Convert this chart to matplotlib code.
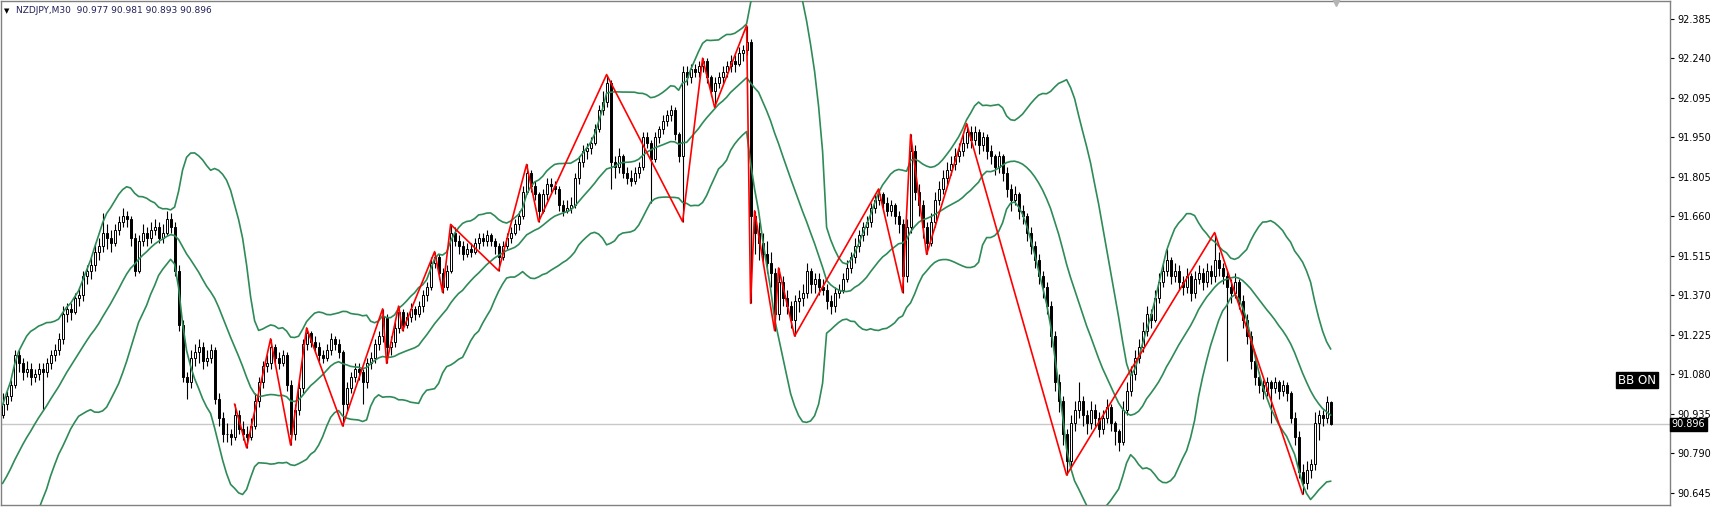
import numpy as np
import pandas as pd
import matplotlib
matplotlib.use("Agg")
import matplotlib.pyplot as plt

# NZDJPY M30 candles (one per bar, left to right)
# closes before the first visible bar, only needed to start the Bollinger bands
warmup_closes = [90.50, 90.47, 90.52, 90.55, 90.53, 90.58, 90.60, 90.57, 90.62, 90.65,
                 90.68, 90.66, 90.72, 90.75, 90.78, 90.80, 90.84, 90.88, 90.92]

opens = [
    90.93, 90.97, 91.00, 91.04, 91.15, 91.12, 91.09, 91.10, 91.07, 91.08,
    91.10, 91.09, 91.12, 91.15, 91.17, 91.21, 91.30, 91.32, 91.31, 91.36,
    91.37, 91.44, 91.46, 91.48, 91.53, 91.55, 91.60, 91.58, 91.56, 91.61,
    91.64, 91.66, 91.65, 91.58, 91.46, 91.57, 91.60, 91.58, 91.61, 91.62,
    91.58, 91.60, 91.65, 91.62, 91.46, 91.26, 91.07, 91.05, 91.14, 91.16,
    91.18, 91.13, 91.14, 91.17, 90.99, 90.92, 90.86, 90.86, 90.85, 90.93,
    90.88, 90.86, 90.85, 90.89, 90.98, 91.05, 91.11, 91.12, 91.18, 91.14,
    91.12, 91.15, 91.04, 90.86, 90.95, 91.03, 91.19, 91.23, 91.20, 91.18,
    91.15, 91.14, 91.17, 91.21, 91.19, 91.16, 90.97, 91.03, 91.07, 91.10,
    91.09, 91.05, 91.12, 91.14, 91.19, 91.22, 91.29, 91.18, 91.20, 91.25,
    91.31, 91.26, 91.29, 91.32, 91.30, 91.33, 91.37, 91.40, 91.49, 91.51,
    91.45, 91.40, 91.46, 91.60, 91.57, 91.55, 91.52, 91.54, 91.53, 91.56,
    91.58, 91.57, 91.59, 91.57, 91.55, 91.51, 91.55, 91.58, 91.60, 91.63,
    91.66, 91.75, 91.82, 91.77, 91.74, 91.68, 91.74, 91.78, 91.77, 91.76,
    91.70, 91.68, 91.69, 91.70, 91.80, 91.86, 91.90, 91.91, 91.93, 91.98,
    92.05, 92.08, 92.15, 91.86, 91.84, 91.88, 91.82, 91.80, 91.79, 91.82,
    91.84, 91.95, 91.93, 91.87, 91.95, 91.98, 92.01, 92.03, 92.05, 91.96,
    91.88, 92.19, 92.17, 92.20, 92.19, 92.21, 92.23, 92.17, 92.12, 92.15,
    92.17, 92.19, 92.21, 92.23, 92.22, 92.26, 92.27, 92.30, 91.66, 91.60,
    91.56, 91.52, 91.49, 91.45, 91.30, 91.42, 91.36, 91.33, 91.28, 91.35,
    91.36, 91.38, 91.46, 91.41, 91.43, 91.40, 91.39, 91.35, 91.33, 91.38,
    91.39, 91.43, 91.47, 91.51, 91.55, 91.59, 91.62, 91.64, 91.69, 91.72,
    91.74, 91.71, 91.68, 91.70, 91.66, 91.63, 91.44, 91.62, 91.90, 91.75,
    91.70, 91.62, 91.56, 91.64, 91.72, 91.76, 91.80, 91.83, 91.85, 91.88,
    91.90, 91.93, 91.97, 91.94, 91.97, 91.92, 91.95, 91.90, 91.88, 91.84,
    91.88, 91.82, 91.76, 91.72, 91.74, 91.68, 91.66, 91.60, 91.55, 91.50,
    91.44, 91.40, 91.33, 91.22, 91.05, 90.98, 90.86, 90.76, 90.90, 90.95,
    90.98, 90.93, 90.90, 90.95, 90.92, 90.88, 90.92, 90.96, 90.90, 90.87,
    90.83, 90.95, 91.02, 91.08, 91.14, 91.18, 91.24, 91.30, 91.28, 91.36,
    91.42, 91.46, 91.50, 91.44, 91.46, 91.42, 91.40, 91.44, 91.38, 91.43,
    91.45, 91.42, 91.46, 91.44, 91.50, 91.47, 91.44, 91.40, 91.38, 91.42,
    91.35, 91.28, 91.22, 91.13, 91.07, 91.04, 91.02, 91.05, 91.03, 91.05,
    91.02, 91.04, 91.01, 90.92, 90.85, 90.72, 90.68, 90.73, 90.75, 90.90,
    90.93, 90.92, 90.977]

highs = [
    91.01, 91.02, 91.06, 91.17, 91.17, 91.14, 91.13, 91.12, 91.10, 91.12,
    91.12, 91.14, 91.17, 91.19, 91.23, 91.33, 91.34, 91.34, 91.38, 91.40,
    91.46, 91.48, 91.51, 91.56, 91.58, 91.67, 91.63, 91.61, 91.63, 91.66,
    91.69, 91.68, 91.66, 91.60, 91.59, 91.63, 91.62, 91.64, 91.65, 91.64,
    91.63, 91.68, 91.67, 91.64, 91.48, 91.28, 91.09, 91.17, 91.19, 91.21,
    91.20, 91.17, 91.19, 91.18, 91.01, 90.94, 90.90, 90.88, 90.97, 90.95,
    90.91, 90.89, 90.92, 91.01, 91.07, 91.13, 91.15, 91.21, 91.19, 91.16,
    91.17, 91.16, 91.06, 90.97, 91.06, 91.21, 91.25, 91.24, 91.22, 91.20,
    91.17, 91.19, 91.23, 91.22, 91.21, 91.17, 91.05, 91.09, 91.12, 91.12,
    91.10, 91.14, 91.16, 91.21, 91.24, 91.32, 91.30, 91.22, 91.27, 91.33,
    91.32, 91.31, 91.34, 91.33, 91.35, 91.39, 91.42, 91.51, 91.53, 91.52,
    91.47, 91.48, 91.63, 91.62, 91.59, 91.57, 91.56, 91.56, 91.58, 91.60,
    91.60, 91.61, 91.60, 91.58, 91.56, 91.57, 91.60, 91.62, 91.65, 91.68,
    91.77, 91.85, 91.83, 91.79, 91.75, 91.76, 91.80, 91.80, 91.79, 91.77,
    91.72, 91.72, 91.73, 91.82, 91.88, 91.92, 91.93, 91.95, 92.00, 92.07,
    92.12, 92.18, 92.16, 91.88, 91.91, 91.89, 91.84, 91.83, 91.84, 91.86,
    91.97, 91.97, 91.94, 91.97, 91.99, 92.03, 92.05, 92.07, 92.06, 91.97,
    92.21, 92.21, 92.22, 92.22, 92.23, 92.24, 92.24, 92.18, 92.17, 92.19,
    92.21, 92.23, 92.25, 92.25, 92.28, 92.29, 92.36, 92.31, 91.68, 91.64,
    91.60, 91.57, 91.53, 91.47, 91.47, 91.44, 91.39, 91.35, 91.37, 91.39,
    91.41, 91.49, 91.47, 91.45, 91.45, 91.43, 91.41, 91.37, 91.40, 91.41,
    91.45, 91.50, 91.53, 91.58, 91.61, 91.64, 91.66, 91.71, 91.74, 91.76,
    91.75, 91.73, 91.72, 91.71, 91.68, 91.65, 91.65, 91.96, 91.92, 91.78,
    91.72, 91.64, 91.67, 91.75, 91.79, 91.83, 91.86, 91.88, 91.91, 91.93,
    91.96, 92.00, 91.99, 91.99, 91.98, 91.97, 91.96, 91.92, 91.89, 91.90,
    91.89, 91.84, 91.78, 91.77, 91.75, 91.70, 91.67, 91.62, 91.57, 91.52,
    91.46, 91.42, 91.35, 91.24, 91.08, 91.00, 90.88, 90.93, 90.98, 91.05,
    91.00, 90.95, 90.98, 90.97, 90.94, 90.95, 90.99, 90.97, 90.91, 90.88,
    90.98, 91.05, 91.11, 91.17, 91.21, 91.27, 91.33, 91.32, 91.39, 91.45,
    91.49, 91.54, 91.51, 91.49, 91.48, 91.44, 91.47, 91.45, 91.46, 91.48,
    91.47, 91.49, 91.48, 91.60, 91.53, 91.49, 91.46, 91.43, 91.45, 91.43,
    91.37, 91.30, 91.24, 91.15, 91.09, 91.06, 91.07, 91.06, 91.07, 91.06,
    91.06, 91.05, 91.02, 90.94, 90.87, 90.75, 90.76, 90.77, 90.94, 90.95,
    90.95, 91.00, 90.981]

lows = [
    90.92, 90.95, 90.98, 91.03, 91.09, 91.06, 91.07, 91.04, 91.05, 91.06,
    90.95, 91.07, 91.10, 91.13, 91.15, 91.19, 91.27, 91.28, 91.30, 91.33,
    91.35, 91.41, 91.43, 91.46, 91.50, 91.53, 91.54, 91.53, 91.55, 91.59,
    91.62, 91.62, 91.55, 91.44, 91.45, 91.55, 91.55, 91.56, 91.59, 91.56,
    91.56, 91.59, 91.60, 91.44, 91.24, 91.05, 90.99, 91.03, 91.11, 91.12,
    91.10, 91.11, 91.12, 90.97, 90.89, 90.83, 90.83, 90.82, 90.84, 90.86,
    90.84, 90.81, 90.84, 90.88, 90.96, 91.03, 91.09, 91.10, 91.12, 91.10,
    91.11, 91.02, 90.82, 90.84, 90.93, 91.01, 91.17, 91.18, 91.16, 91.13,
    91.12, 91.13, 91.15, 91.17, 91.14, 90.89, 90.95, 91.01, 91.05, 91.06,
    90.97, 91.03, 91.10, 91.12, 91.17, 91.20, 91.12, 91.15, 91.18, 91.23,
    91.24, 91.25, 91.27, 91.28, 91.29, 91.31, 91.35, 91.39, 91.47, 91.43,
    91.38, 91.39, 91.45, 91.55, 91.52, 91.50, 91.51, 91.51, 91.52, 91.54,
    91.55, 91.55, 91.55, 91.52, 91.46, 91.50, 91.54, 91.56, 91.59, 91.61,
    91.65, 91.74, 91.75, 91.72, 91.64, 91.67, 91.72, 91.75, 91.74, 91.68,
    91.66, 91.67, 91.67, 91.69, 91.78, 91.84, 91.87, 91.89, 91.92, 91.97,
    92.03, 92.06, 91.76, 91.80, 91.82, 91.80, 91.78, 91.77, 91.78, 91.80,
    91.83, 91.91, 91.71, 91.86, 91.93, 91.96, 91.99, 92.01, 91.94, 91.86,
    91.64, 92.14, 92.15, 92.17, 92.17, 92.19, 92.15, 92.10, 92.06, 92.13,
    92.15, 92.17, 92.19, 92.19, 92.21, 92.23, 92.25, 91.34, 91.52, 91.50,
    91.48, 91.45, 91.40, 91.24, 91.28, 91.33, 91.30, 91.25, 91.22, 91.31,
    91.33, 91.36, 91.38, 91.38, 91.37, 91.37, 91.32, 91.30, 91.31, 91.36,
    91.38, 91.42, 91.45, 91.49, 91.53, 91.57, 91.59, 91.62, 91.67, 91.70,
    91.69, 91.66, 91.66, 91.63, 91.60, 91.38, 91.42, 91.60, 91.72, 91.66,
    91.58, 91.52, 91.55, 91.62, 91.70, 91.74, 91.78, 91.81, 91.83, 91.86,
    91.88, 91.91, 91.91, 91.92, 91.89, 91.90, 91.87, 91.85, 91.81, 91.82,
    91.79, 91.73, 91.68, 91.70, 91.65, 91.63, 91.57, 91.52, 91.47, 91.41,
    91.36, 91.30, 91.18, 91.02, 90.94, 90.82, 90.71, 90.74, 90.87, 90.92,
    90.89, 90.86, 90.88, 90.89, 90.85, 90.86, 90.90, 90.87, 90.82, 90.80,
    90.82, 90.93, 91.00, 91.06, 91.12, 91.16, 91.22, 91.25, 91.27, 91.34,
    91.40, 91.44, 91.41, 91.42, 91.39, 91.37, 91.38, 91.35, 91.36, 91.41,
    91.39, 91.40, 91.41, 91.42, 91.44, 91.41, 91.13, 91.34, 91.36, 91.32,
    91.25, 91.19, 91.10, 91.04, 91.01, 90.99, 91.00, 90.90, 91.01, 90.99,
    91.00, 90.98, 90.90, 90.82, 90.70, 90.64, 90.66, 90.70, 90.73, 90.84,
    90.89, 90.90, 90.893]

closes = [
    90.97, 91.00, 91.04, 91.15, 91.12, 91.09, 91.10, 91.07, 91.08, 91.10,
    91.09, 91.12, 91.15, 91.17, 91.21, 91.30, 91.32, 91.31, 91.36, 91.37,
    91.44, 91.46, 91.48, 91.53, 91.55, 91.60, 91.58, 91.56, 91.61, 91.64,
    91.66, 91.65, 91.58, 91.46, 91.57, 91.60, 91.58, 91.61, 91.62, 91.58,
    91.60, 91.65, 91.62, 91.46, 91.26, 91.07, 91.05, 91.14, 91.16, 91.18,
    91.13, 91.14, 91.17, 90.99, 90.92, 90.86, 90.86, 90.85, 90.93, 90.88,
    90.86, 90.85, 90.89, 90.98, 91.05, 91.11, 91.12, 91.18, 91.14, 91.12,
    91.15, 91.04, 90.86, 90.95, 91.03, 91.19, 91.23, 91.20, 91.18, 91.15,
    91.14, 91.17, 91.21, 91.19, 91.16, 90.97, 91.03, 91.07, 91.10, 91.09,
    91.05, 91.12, 91.14, 91.19, 91.22, 91.29, 91.18, 91.20, 91.25, 91.31,
    91.26, 91.29, 91.32, 91.30, 91.33, 91.37, 91.40, 91.49, 91.51, 91.45,
    91.40, 91.46, 91.60, 91.57, 91.55, 91.52, 91.54, 91.53, 91.56, 91.58,
    91.57, 91.59, 91.57, 91.55, 91.51, 91.55, 91.58, 91.60, 91.63, 91.66,
    91.75, 91.82, 91.77, 91.74, 91.68, 91.74, 91.78, 91.77, 91.76, 91.70,
    91.68, 91.69, 91.70, 91.80, 91.86, 91.90, 91.91, 91.93, 91.98, 92.05,
    92.08, 92.15, 91.86, 91.84, 91.88, 91.82, 91.80, 91.79, 91.82, 91.84,
    91.95, 91.93, 91.87, 91.95, 91.98, 92.01, 92.03, 92.05, 91.96, 91.88,
    92.19, 92.17, 92.20, 92.19, 92.21, 92.23, 92.17, 92.12, 92.15, 92.17,
    92.19, 92.21, 92.23, 92.22, 92.26, 92.27, 92.30, 91.66, 91.60, 91.56,
    91.52, 91.49, 91.45, 91.30, 91.42, 91.36, 91.33, 91.28, 91.35, 91.36,
    91.38, 91.46, 91.41, 91.43, 91.40, 91.39, 91.35, 91.33, 91.38, 91.39,
    91.43, 91.47, 91.51, 91.55, 91.59, 91.62, 91.64, 91.69, 91.72, 91.74,
    91.71, 91.68, 91.70, 91.66, 91.63, 91.44, 91.62, 91.90, 91.75, 91.70,
    91.62, 91.56, 91.64, 91.72, 91.76, 91.80, 91.83, 91.85, 91.88, 91.90,
    91.93, 91.97, 91.94, 91.97, 91.92, 91.95, 91.90, 91.88, 91.84, 91.88,
    91.82, 91.76, 91.72, 91.74, 91.68, 91.66, 91.60, 91.55, 91.50, 91.44,
    91.40, 91.33, 91.22, 91.05, 90.98, 90.86, 90.76, 90.90, 90.95, 90.98,
    90.93, 90.90, 90.95, 90.92, 90.88, 90.92, 90.96, 90.90, 90.87, 90.83,
    90.95, 91.02, 91.08, 91.14, 91.18, 91.24, 91.30, 91.28, 91.36, 91.42,
    91.46, 91.50, 91.44, 91.46, 91.42, 91.40, 91.44, 91.38, 91.43, 91.45,
    91.42, 91.46, 91.44, 91.50, 91.47, 91.44, 91.40, 91.38, 91.42, 91.35,
    91.28, 91.22, 91.13, 91.07, 91.04, 91.02, 91.05, 91.03, 91.05, 91.02,
    91.04, 91.01, 90.92, 90.85, 90.72, 90.68, 90.73, 90.75, 90.90, 90.93,
    90.92, 90.977, 90.896]

# zigzag turning points (bar index, price)
zz_bar = [58, 61, 67, 72, 76, 85, 95, 96, 99, 100, 108, 110, 112, 124, 131, 134, 151,
          170, 175, 178, 186, 187, 188, 193, 194, 198, 219, 225, 227, 231, 241, 266,
          303, 325]
zz_price = [90.97, 90.81, 91.21, 90.82, 91.25, 90.89, 91.32, 91.12, 91.33, 91.24,
            91.53, 91.38, 91.63, 91.46, 91.85, 91.64, 92.18, 91.64, 92.24, 92.06,
            92.36, 91.34, 91.68, 91.24, 91.47, 91.22, 91.76, 91.38, 91.96, 91.52,
            92.00, 90.71, 91.60, 90.64]

price_ticks = [92.385, 92.240, 92.095, 91.950, 91.805, 91.660, 91.515, 91.370,
               91.225, 91.080, 90.935, 90.790, 90.645]
symbol = "NZDJPY,M30"
last_bar = [90.977, 90.981, 90.893, 90.896]

assert len(opens) == len(highs) == len(lows) == len(closes), (len(opens), len(highs), len(lows), len(closes))

o = np.array(opens)
h = np.array(highs)
l = np.array(lows)
c = np.array(closes)
x = np.arange(len(c))

# Bollinger bands 20, 2
s = pd.Series(warmup_closes + closes)
mid = s.rolling(20).mean().values[len(warmup_closes):]
sd = s.rolling(20).std(ddof=0).values[len(warmup_closes):]
upper = mid + 2 * sd
lower = mid - 2 * sd

W, H = 1717, 507
fig = plt.figure(figsize=(W / 100, H / 100), dpi=100)
fig.patch.set_facecolor("white")
ax = fig.add_axes([1 / W, 2 / H, 1669 / W, 504 / H])

ax.axhline(last_bar[3], color="#c8c8c8", lw=1.0, zorder=1)

up = c >= o
ax.vlines(x, l, h, color="black", lw=0.8, zorder=2)
ax.bar(x[up], (c - o)[up], bottom=o[up], width=0.55, color="white",
       edgecolor="black", linewidth=0.7, zorder=3)
ax.bar(x[~up], (c - o)[~up], bottom=o[~up], width=0.55, color="black",
       edgecolor="black", linewidth=0.7, zorder=3)

bb_col = "#2e8b57"
ax.plot(x, upper, color=bb_col, lw=1.2, zorder=4)
ax.plot(x, mid, color=bb_col, lw=1.2, zorder=4)
ax.plot(x, lower, color=bb_col, lw=1.2, zorder=4)

ax.plot(zz_bar, zz_price, color="red", lw=1.2, zorder=5)

ax.set_xlim(-0.4, -0.4 + 1669 / 4)
ax.set_ylim(90.600, 92.450)
ax.set_xticks([])
ax.yaxis.tick_right()
ax.set_yticks(price_ticks)
ax.set_yticklabels(["%.3f" % t for t in price_ticks])
ax.tick_params(axis="y", length=3, width=0.8, labelsize=7, pad=2, colors="black")
for sp in ax.spines.values():
    sp.set_color("#808080")
    sp.set_linewidth(1)

ax.text(1.001, last_bar[3], "%.3f" % last_bar[3], transform=ax.get_yaxis_transform(),
        ha="left", va="center", fontsize=7, color="white",
        bbox=dict(boxstyle="square,pad=0.15", fc="black", ec="black"))

fig.text(1637 / W, 1 - 380 / H, "BB ON", ha="center", va="center", fontsize=8.5,
         color="white", bbox=dict(boxstyle="square,pad=0.15", fc="black", ec="black"))

ax.text(0.002, 0.985, "\u25bc", transform=ax.transAxes, ha="left", va="top",
        fontsize=5, color="black")
ax.text(0.009, 0.99, "%s  %.3f %.3f %.3f %.3f" % (symbol, *last_bar),
        transform=ax.transAxes, ha="left", va="top", fontsize=6.5, color="#20205a")

# chart shift marker at the top
ax.plot([333.4], [92.447], marker="v", ms=6, color="#b4b4b4", clip_on=False, zorder=6)

fig.savefig("out.png", dpi=100)
